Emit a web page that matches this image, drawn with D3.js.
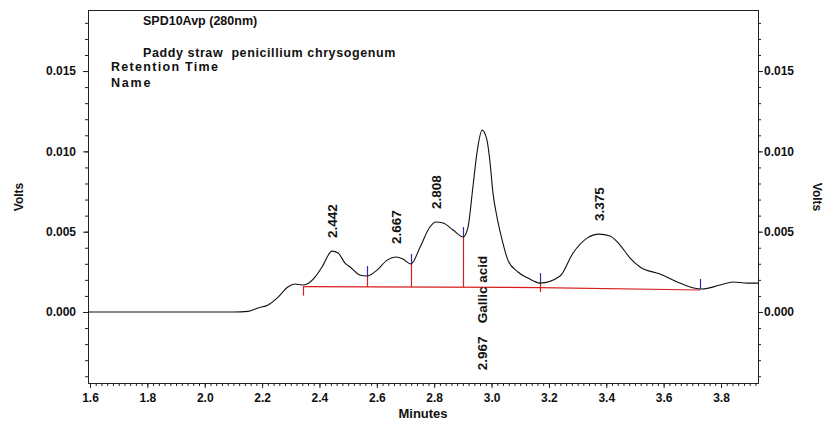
<!DOCTYPE html>
<html>
<head>
<meta charset="utf-8">
<script src="https://cdn.jsdelivr.net/npm/d3@7"></script>
<style>
  body { margin: 0; background: #fff; }
  svg { display: block; font-family: Arial, "Liberation Sans", sans-serif; }
</style>
</head>
<body>
<svg id="chart" width="825" height="422"></svg>
<script>
// detector trace (minutes, volts)
var times = [1.593, 1.80, 2.00, 2.10, 2.151, 2.186, 2.221, 2.256, 2.290, 2.315, 2.339, 2.357, 2.385,
  2.409, 2.444, 2.465, 2.489, 2.507, 2.541, 2.566, 2.601, 2.636, 2.667, 2.691, 2.719, 2.751, 2.785,
  2.806, 2.831, 2.866, 2.901, 2.918, 2.935, 2.949, 2.967, 2.984, 2.995, 3.005, 3.019, 3.037, 3.057,
  3.092, 3.127, 3.169, 3.239, 3.284, 3.333, 3.375, 3.413, 3.448, 3.483, 3.518, 3.587, 3.647, 3.692,
  3.734, 3.797, 3.842, 3.891, 3.929];
var volts = [0, 0, 0, 0, 0.00004, 0.00025, 0.00044, 0.00093, 0.00156, 0.00174, 0.00168, 0.00174, 0.00218,
  0.0028, 0.00379, 0.00367, 0.00305, 0.0028, 0.0023, 0.00224, 0.00261, 0.00323, 0.00342, 0.0033, 0.00299, 0.00404, 0.00529,
  0.0056, 0.00554, 0.0051, 0.00467, 0.00529, 0.00778, 0.00989, 0.01132, 0.0107, 0.00927, 0.0074, 0.00591, 0.00448, 0.00323,
  0.00249, 0.00211, 0.0018, 0.00224, 0.00367, 0.0046, 0.00485, 0.00473, 0.00417, 0.00336, 0.0028, 0.00236, 0.00187, 0.00156,
  0.00143, 0.00168, 0.00187, 0.0018, 0.0018];

// integration events
var eventTimes = [2.343, 2.566, 2.719, 2.901, 3.169, 3.727];
var eventVolts = [0.00168, 0.00224, 0.00299, 0.00467, 0.0018, 0.00143];
var eventKinds = ['start', 'drop', 'drop', 'drop', 'end', 'last'];

// drawn baseline
var baseTimes = [2.343, 3.169, 3.727];
var baseVolts = [0.00158, 0.00152, 0.00137];

// peak labels
var peakTimes = [2.442, 2.667, 2.808, 2.967, 3.375];
var peakVolts = [0.00379, 0.00342, 0.0056, 0.01132, 0.00485];
var peakNames = ['', '', '', 'Gallic acid', ''];

var xTicks = [1.6, 1.8, 2.0, 2.2, 2.4, 2.6, 2.8, 3.0, 3.2, 3.4, 3.6, 3.8];
var yTicks = [0, 0.005, 0.010, 0.015];

var margin = {top: 10, right: 67, bottom: 39, left: 88};
var width = 825 - margin.left - margin.right;
var height = 422 - margin.top - margin.bottom;

var svg = d3.select('#chart');
var g = svg.append('g')
    .attr('transform', 'translate(' + margin.left + ',' + margin.top + ')');

var x = d3.scaleLinear().domain([1.593, 3.929]).range([0, width]);
var y = d3.scaleLinear().domain([-0.00442, 0.0188]).range([height, 0]);

var xMinor = d3.range(80, 197).map(function(d) { return d / 50; });
var yMinor = d3.range(-4, 19).map(function(d) { return d / 1000; });

function styleAxis(sel) {
  sel.select('.domain').remove();
  sel.selectAll('line').attr('stroke', '#222');
  sel.selectAll('text')
      .attr('fill', '#111')
      .style('font-size', '12px')
      .style('font-weight', 'bold');
}

// minor ticks
g.append('g').attr('transform', 'translate(0,' + height + ')')
    .call(d3.axisBottom(x).tickValues(xMinor).tickSize(3).tickFormat(''))
    .call(styleAxis);
g.append('g')
    .call(d3.axisLeft(y).tickValues(yMinor).tickSize(3).tickFormat(''))
    .call(styleAxis);
g.append('g').attr('transform', 'translate(' + width + ',0)')
    .call(d3.axisRight(y).tickValues(yMinor).tickSize(3).tickFormat(''))
    .call(styleAxis);

// major ticks
g.append('g').attr('transform', 'translate(0,' + height + ')')
    .call(d3.axisBottom(x).tickValues(xTicks).tickSize(5).tickPadding(5).tickFormat(d3.format('.1f')))
    .call(styleAxis);
g.append('g')
    .call(d3.axisLeft(y).tickValues(yTicks).tickSize(5).tickPadding(7).tickFormat(d3.format('.3f')))
    .call(styleAxis);
g.append('g').attr('transform', 'translate(' + width + ',0)')
    .call(d3.axisRight(y).tickValues(yTicks).tickSize(5).tickPadding(1).tickFormat(d3.format('.3f')))
    .call(styleAxis);

// frame
g.append('rect')
    .attr('x', 0.5).attr('y', 0.5)
    .attr('width', width).attr('height', height)
    .attr('fill', 'none')
    .attr('stroke', '#222');

// baseline
var baseLine = d3.line()
    .x(function(d, i) { return x(baseTimes[i]); })
    .y(function(d, i) { return y(baseVolts[i]); });
g.append('path')
    .attr('d', baseLine(baseTimes))
    .attr('fill', 'none')
    .attr('stroke', '#d81e1e')
    .attr('stroke-width', 1.2);

function baseAt(t) {
  var i = d3.bisectLeft(baseTimes, t);
  if (i <= 0) return baseVolts[0];
  if (i >= baseTimes.length) return baseVolts[baseVolts.length - 1];
  var f = (t - baseTimes[i - 1]) / (baseTimes[i] - baseTimes[i - 1]);
  return baseVolts[i - 1] + f * (baseVolts[i] - baseVolts[i - 1]);
}

// event marks
eventTimes.forEach(function(t, i) {
  var ex = Math.round(x(t)) + 0.5;
  var ey = y(eventVolts[i]);
  var by = y(baseAt(t));
  var kind = eventKinds[i];
  if (kind === 'start') {
    g.append('line').attr('x1', ex).attr('x2', ex).attr('y1', by).attr('y2', by + 9)
        .attr('stroke', '#d81e1e').attr('stroke-width', 1.2);
  }
  if (kind === 'drop') {
    g.append('line').attr('x1', ex).attr('x2', ex).attr('y1', ey).attr('y2', by)
        .attr('stroke', '#d81e1e').attr('stroke-width', 1.2);
  }
  if (kind === 'end') {
    g.append('line').attr('x1', ex).attr('x2', ex).attr('y1', ey).attr('y2', ey + 9)
        .attr('stroke', '#d81e1e').attr('stroke-width', 1.2);
  }
  if (kind !== 'start') {
    g.append('line').attr('x1', ex).attr('x2', ex).attr('y1', ey - 10).attr('y2', ey)
        .attr('stroke', '#2a2ab8').attr('stroke-width', 1.2);
  }
});

// trace
var line = d3.line()
    .x(function(d, i) { return x(times[i]); })
    .y(function(d, i) { return y(volts[i]); })
    .curve(d3.curveMonotoneX);
g.append('path')
    .attr('d', line(times))
    .attr('fill', 'none')
    .attr('stroke', '#111')
    .attr('stroke-width', 1.1);

// peak labels
peakTimes.forEach(function(t, i) {
  var px = x(t) + 5;
  if (peakNames[i]) {
    var by = y(baseAt(t));
    g.append('text')
        .attr('transform', 'translate(' + px + ',' + (by + 83) + ') rotate(-90)')
        .style('font-size', '13.5px').style('font-weight', 'bold').attr('fill', '#111')
        .text(d3.format('.3f')(t));
    g.append('text')
        .attr('transform', 'translate(' + px + ',' + (by + 36) + ') rotate(-90)')
        .style('font-size', '13.5px').style('font-weight', 'bold').attr('fill', '#111')
        .text(peakNames[i]);
  } else {
    g.append('text')
        .attr('transform', 'translate(' + px + ',' + (y(peakVolts[i]) - 13) + ') rotate(-90)')
        .style('font-size', '13.5px').style('font-weight', 'bold').attr('fill', '#111')
        .text(d3.format('.3f')(t));
  }
});

// header text
var header = [
  {text: 'SPD10Avp (280nm)', x: 143, y: 25, ls: 0},
  {text: 'Paddy straw  penicillium chrysogenum', x: 143, y: 57, ls: 0.6},
  {text: 'Retention Time', x: 111, y: 71, ls: 1.3},
  {text: 'Name', x: 111, y: 87, ls: 1.8}
];
svg.selectAll('.hdr')
    .data(header)
  .enter().append('text')
    .attr('class', 'hdr')
    .attr('x', function(d) { return d.x; })
    .attr('y', function(d) { return d.y; })
    .style('font-size', '12.5px').style('font-weight', 'bold').attr('fill', '#111')
    .style('letter-spacing', function(d) { return d.ls + 'px'; })
    .style('white-space', 'pre')
    .text(function(d) { return d.text; });

// axis titles
svg.append('text')
    .attr('x', margin.left + width / 2).attr('y', 418)
    .attr('text-anchor', 'middle')
    .style('font-size', '13px').style('font-weight', 'bold').attr('fill', '#111')
    .text('Minutes');
svg.append('text')
    .attr('transform', 'translate(23,197) rotate(-90)')
    .attr('text-anchor', 'middle')
    .style('font-size', '12px').style('font-weight', 'bold').attr('fill', '#111')
    .text('Volts');
svg.append('text')
    .attr('transform', 'translate(813,197) rotate(90)')
    .attr('text-anchor', 'middle')
    .style('font-size', '12px').style('font-weight', 'bold').attr('fill', '#111')
    .text('Volts');
</script>
</body>
</html>
